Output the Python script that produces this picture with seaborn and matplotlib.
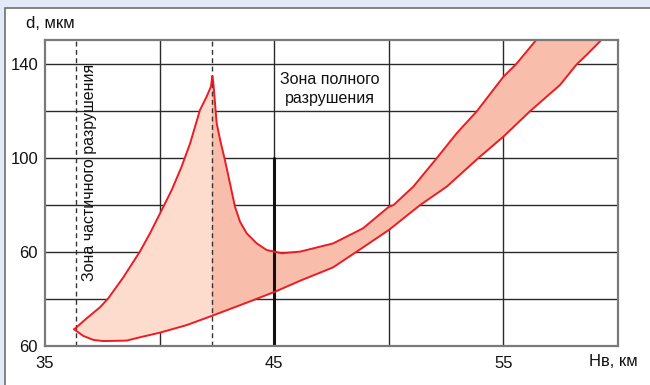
import matplotlib
matplotlib.use("Agg")
import matplotlib.pyplot as plt
from matplotlib.patches import Rectangle, Polygon
import seaborn as sns
import pandas as pd
import numpy as np

# ---- data ----
upper_x = [36.27, 36.82, 37.40, 37.76, 38.42, 39.14, 39.58, 40.02, 40.53, 40.96, 41.33, 41.76,
           42.05, 42.24, 42.30,
           42.34, 42.49, 42.64, 42.85, 43.07, 43.29, 43.51, 43.80, 44.24, 44.67, 45.33, 46.13,
           47.57, 48.87, 50.00, 50.20, 51.07, 52.09, 52.96, 53.84, 55.00, 55.55, 56.45]
upper_y = [27.1, 31.8, 36.5, 40.3, 49.3, 60.2, 68.0, 76.5, 86.5, 96.4, 106.3, 120.5,
           126.2, 130.5, 135.0,
           132.6, 114.9, 107.8, 99.2, 89.3, 79.3, 72.9, 68.0, 63.7, 60.9, 59.5, 60.2,
           63.7, 70.1, 79.3, 80.0, 87.9, 100.0, 110.6, 120.0, 134.7, 140.0, 150.6]

lower_x = [36.27, 36.67, 37.11, 37.54, 38.56, 39.14, 40.02, 41.18, 42.27, 43.65, 45.03, 46.13,
           47.57, 48.60, 50.00, 51.36, 52.53, 53.90, 55.00, 56.16, 57.47, 58.20, 58.63, 59.30]
lower_y = [27.1, 24.3, 22.6, 22.1, 22.3, 23.7, 25.7, 28.9, 32.8, 37.9, 43.1, 47.8,
           53.5, 60.2, 69.4, 80.0, 87.9, 100.0, 109.2, 120.0, 131.2, 140.0, 144.0, 150.6]

zone_split_x = [36.35, 42.27]        # dashed boundaries
full_zone_x = 45                      # solid line at 45 km
y_ticks = [20, 60, 100, 140]
y_tick_labels = ["60", "60", "100", "140"]
x_ticks = [35, 45, 55]
x_tick_labels = ["35", "45", "55"]
grid_x = [40, 45, 50, 55]
grid_y = [40, 60, 80, 100, 120, 140]

sns.set_style("white")
plt.rcParams['font.family'] = ['Liberation Sans', 'DejaVu Sans']

W, H = 650, 385
fig = plt.figure(figsize=(W / 100, H / 100), dpi=100)
fig.patch.set_facecolor('#e3e9f6')
panel = Rectangle((5 / W, -0.02), 1.0, (H - 8) / H + 0.02, transform=fig.transFigure,
                  facecolor='white', edgecolor='#707070', lw=1.2, zorder=-5)
fig.patches.append(panel)

ax = fig.add_axes([45 / W, (H - 346) / H, (618 - 45) / W, (346 - 40) / H])
ax.set_zorder(5)
ax.set_facecolor('none')
ax.set_xlim(35, 60)
ax.set_ylim(20, 150.35)

# grid
for gx in grid_x:
    ax.axvline(gx, color='#2a2a2a', lw=1.0, zorder=1)
for gy in grid_y:
    ax.axhline(gy, color='#2a2a2a', lw=1.0, zorder=1)

# filled zone
poly_pts = list(zip(upper_x, upper_y)) + list(zip(lower_x[::-1], lower_y[::-1]))
light = Polygon(poly_pts, closed=True, facecolor='#fddccd', edgecolor='none', zorder=2)
dark = Polygon(poly_pts, closed=True, facecolor='#f9bdab', edgecolor='none', zorder=2)
ax.add_patch(light)
ax.add_patch(dark)
clip_l = Rectangle((30, 0), zone_split_x[1] - 30, 200, transform=ax.transData)
clip_r = Rectangle((zone_split_x[1], 0), 40, 200, transform=ax.transData)
light.set_clip_path(clip_l)
dark.set_clip_path(clip_r)

# boundary lines through seaborn
df_up = pd.DataFrame({"x": upper_x, "y": upper_y})
df_lo = pd.DataFrame({"x": lower_x, "y": lower_y})
sns.lineplot(data=df_up, x="x", y="y", sort=False, estimator=None, color='#ec1c24', lw=1.4,
             ax=ax, zorder=4, solid_joinstyle='round')
sns.lineplot(data=df_lo, x="x", y="y", sort=False, estimator=None, color='#ec1c24', lw=1.4,
             ax=ax, zorder=4, solid_joinstyle='round')

# dashed zone boundaries
for zx in zone_split_x:
    ax.axvline(zx, color='#333333', lw=1.0, ls=(0, (3.5, 2.5)), zorder=3)
# solid line
ax.plot([full_zone_x, full_zone_x], [20, 100], color='#111111', lw=2.2, zorder=3)

# texts
ax.text(47.43, 129.4, "Зона полного\nразрушения", ha='center', va='center', fontsize=11.5,
        linespacing=1.35, color='#111111', zorder=5)
ax.text(36.93, 93.9, "Зона частичного разрушения", ha='center', va='center', rotation=90,
        fontsize=11.5, color='#111111', zorder=5)

ax.set_xticks(x_ticks)
ax.set_xticklabels(x_tick_labels)
ax.set_yticks(y_ticks)
ax.set_yticklabels(y_tick_labels)
ax.tick_params(axis='x', length=0, pad=7, labelsize=12, colors='#111111')
ax.tick_params(axis='y', length=0, pad=5, labelsize=12, colors='#111111')
ax.set_xlabel("")
ax.set_ylabel("")

for s in ax.spines.values():
    s.set_visible(True)
    s.set_color('#7a7a7a')
    s.set_linewidth(1.6)
    s.set_zorder(6)

fig.text(50 / W, 1 - 24 / H, "d, мкм", ha='center', va='center', fontsize=12, color='#111111')
fig.text(613 / W, 1 - 361 / H, "Нв, км", ha='center', va='center', fontsize=12, color='#111111')

fig.savefig("out.png", dpi=100, facecolor=fig.get_facecolor())
